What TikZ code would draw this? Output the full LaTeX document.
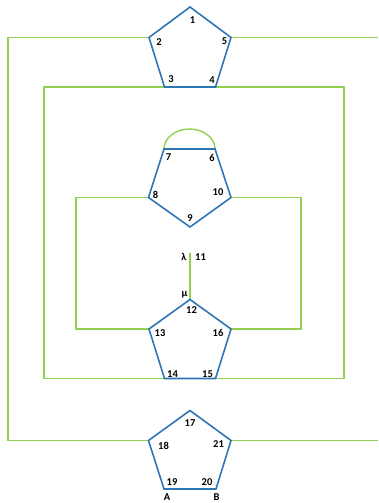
\documentclass[tikz,border=0pt]{standalone}
\usepackage{fontspec}
\setmainfont{Carlito}
\definecolor{pblue}{HTML}{2E75B6}
\definecolor{lgreen}{HTML}{92D050}
\begin{document}
\begin{tikzpicture}[x=1pt,y=-1pt,
  pent/.style={draw=pblue,line width=1.6pt,line join=miter},
  wire/.style={draw=lgreen,line width=1.4pt},
  lab/.style={font=\bfseries\fontsize{10.5}{12}\selectfont,inner sep=0pt}]
\useasboundingbox (0,0) rectangle (378,503);
% pentagon 1
\coordinate (v1) at (190,7);
\coordinate (v2) at (149,37.5);
\coordinate (v5) at (231,37.5);
\coordinate (v3) at (164.5,87);
\coordinate (v4) at (215.5,87);
% pentagon 2
\coordinate (v7) at (164,149);
\coordinate (v6) at (215,149);
\coordinate (v10) at (231,197.5);
\coordinate (v9) at (190,227);
\coordinate (v8) at (148.5,197.5);
% pentagon 3
\coordinate (v12) at (190,299.5);
\coordinate (v13) at (149,329);
\coordinate (v16) at (231,329);
\coordinate (v15) at (215.5,378.5);
\coordinate (v14) at (164.5,378.5);
\coordinate (v11) at (190,253);
% pentagon 4
\coordinate (v17) at (190,410.5);
\coordinate (v18) at (148.5,440.5);
\coordinate (v21) at (231,440.5);
\coordinate (v20) at (216,489);
\coordinate (v19) at (164,489);
% outer frame coordinates
\coordinate (o1) at (8,37.5);
\coordinate (o2) at (8,440.5);
\coordinate (o3) at (378,37.5);
\coordinate (o4) at (378,440.5);
% middle frame
\coordinate (m1) at (44,87);
\coordinate (m2) at (44,378.5);
\coordinate (m3) at (344,87);
\coordinate (m4) at (344,378.5);
% inner frame
\coordinate (i1) at (76,197.5);
\coordinate (i2) at (76,329);
\coordinate (i3) at (301,197.5);
\coordinate (i4) at (301,329);
% green wires
\draw[wire] (v2) -- (o1) -- (o2) -- (v18);
\draw[wire] (v5) -- (o3);
\draw[wire] (v21) -- (o4);
\draw[wire] (v3) -- (m1) -- (m2) -- (v14);
\draw[wire] (v4) -- (m3) -- (m4) -- (v15);
\draw[wire] (v8) -- (i1) -- (i2) -- (v13);
\draw[wire] (v10) -- (i3) -- (i4) -- (v16);
\draw[wire] (v12) -- (v11);
\draw[wire] (v7) arc[start angle=180,end angle=360,x radius=25.5,y radius=20];
% pentagons
\draw[pent] (v1) -- (v5) -- (v4) -- (v3) -- (v2) -- cycle;
\draw[pent] (v7) -- (v6) -- (v10) -- (v9) -- (v8) -- cycle;
\draw[pent] (v12) -- (v16) -- (v15) -- (v14) -- (v13) -- cycle;
\draw[pent] (v17) -- (v21) -- (v20) -- (v19) -- (v18) -- cycle;
% labels
\node[lab] (l1) at (192.5,20) {1};
\node[lab] (l2) at (159,42) {2};
\node[lab] (l5) at (224.5,41.5) {5};
\node[lab] (l3) at (171,79.5) {3};
\node[lab] (l4) at (212,80) {4};
\node[lab] (l7) at (168.5,157) {7};
\node[lab] (l6) at (212,158) {6};
\node[lab] (l8) at (155.5,194.5) {8};
\node[lab] (l10) at (218,192.5) {10};
\node[lab] (l9) at (190,218.5) {9};
\node[lab] (llam) at (184,257) {λ};
\node[lab] (l11) at (200.5,257) {11};
\node[lab] (lmu) at (184.5,294.5) {μ};
\node[lab] (l12) at (191.5,310.5) {12};
\node[lab] (l13) at (160,333.5) {13};
\node[lab] (l16) at (218,332.5) {16};
\node[lab] (l14) at (172.5,374) {14};
\node[lab] (l15) at (207.5,374) {15};
\node[lab] (l17) at (190,423) {17};
\node[lab] (l18) at (163.5,445.5) {18};
\node[lab] (l21) at (218.5,444.5) {21};
\node[lab] (l19) at (172,482) {19};
\node[lab] (l20) at (207,482) {20};
\node[lab] (lA) at (167,497.5) {A};
\node[lab] (lB) at (216.5,497.5) {B};
\end{tikzpicture}
\end{document}
